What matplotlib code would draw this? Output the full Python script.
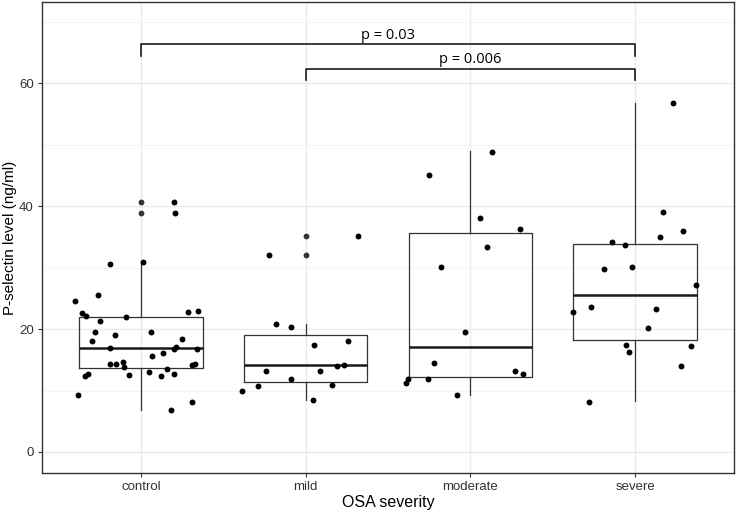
import numpy as np
import matplotlib.pyplot as plt

categories = ["control", "mild", "moderate", "severe"]

# box statistics
q1 = [13.7, 11.4, 12.2, 18.2]
med = [16.9, 14.1, 17.0, 25.5]
q3 = [21.9, 19.1, 35.6, 33.9]
whislo = [6.9, 8.5, 9.3, 8.3]
whishi = [30.9, 20.8, 48.9, 56.7]
outliers = [[40.65, 38.9], [35.2, 32.0], [], []]

# jittered observations: value and horizontal jitter
control_vals = [40.65, 38.9, 30.6, 30.9, 25.6, 24.5, 22.55, 22.1, 21.25, 21.95,
                22.7, 22.9, 19.45, 19.0, 19.45, 18.05, 18.4, 16.9, 16.75, 17.05,
                16.75, 16.15, 15.6, 14.25, 14.35, 14.6, 13.9, 14.15, 14.35, 12.4,
                12.7, 12.6, 12.95, 12.4, 13.55, 12.7, 9.2, 8.1, 6.8]
control_jit = [0.20, 0.21, -0.19, 0.01, -0.26, -0.40, -0.36, -0.33, -0.25, -0.09,
               0.285, 0.345, -0.28, -0.16, 0.06, -0.295, 0.25, -0.19, 0.20, 0.215,
               0.34, 0.135, 0.07, -0.19, -0.15, -0.11, -0.105, 0.31, 0.33, -0.34,
               -0.32, -0.07, 0.05, 0.12, 0.16, 0.20, -0.38, 0.31, 0.18]

mild_vals = [35.2, 32.0, 20.75, 20.4, 17.4, 18.05, 14.0, 14.2, 13.1, 13.2,
             11.9, 10.7, 10.85, 10.0, 8.4]
mild_jit = [0.32, -0.22, -0.18, -0.09, 0.05, 0.26, 0.19, 0.23, -0.24, 0.09,
            -0.09, -0.29, 0.16, -0.385, 0.045]

moderate_vals = [48.8, 45.0, 38.1, 36.3, 33.3, 30.1, 19.5, 14.5, 13.2, 12.7,
                 11.9, 11.3, 11.8, 9.2]
moderate_jit = [0.13, -0.25, 0.06, 0.30, 0.10, -0.18, -0.03, -0.22, 0.27, 0.32,
                -0.38, -0.39, -0.26, -0.08]

severe_vals = [56.7, 39.1, 36.0, 34.9, 34.1, 33.6, 29.75, 30.1, 27.2, 22.7,
               23.6, 23.2, 20.1, 17.4, 16.3, 17.2, 14.0, 8.2]
severe_jit = [0.23, 0.17, 0.29, 0.15, -0.14, -0.06, -0.19, -0.02, 0.37, -0.38,
              -0.27, 0.125, 0.08, -0.055, -0.04, 0.34, 0.28, -0.28]

comparisons = [("control", "severe", 66.3, "p = 0.03"),
               ("mild", "severe", 62.3, "p = 0.006")]

fig = plt.figure(figsize=(7.37, 5.14), dpi=100)
ax = fig.add_axes([0.057, 0.08, 0.939, 0.916])

pos = np.arange(1, len(categories) + 1)

stats = []
for i in range(len(categories)):
    stats.append(dict(q1=q1[i], med=med[i], q3=q3[i], whislo=whislo[i],
                      whishi=whishi[i], fliers=outliers[i]))

line_c = "#333333"
ax.bxp(stats, positions=pos, widths=0.75, showcaps=False, zorder=2,
       boxprops=dict(color=line_c, lw=0.9),
       whiskerprops=dict(color=line_c, lw=0.9),
       medianprops=dict(color="#1a1a1a", lw=1.8),
       flierprops=dict(marker="o", markersize=4.2, markerfacecolor="#333333",
                       markeredgecolor="none"))

groups = [(control_vals, control_jit), (mild_vals, mild_jit),
          (moderate_vals, moderate_jit), (severe_vals, severe_jit)]
for p, (vals, jit) in zip(pos, groups):
    ax.scatter(p + np.array(jit), vals, s=18, color="black", lw=0, zorder=3)

# significance brackets
for a, b, y, label in comparisons:
    xa = categories.index(a) + 1
    xb = categories.index(b) + 1
    ax.plot([xa, xa, xb, xb], [y - 1.8, y, y, y - 1.8], color="#1a1a1a",
            lw=1.2, zorder=4)
    ax.text((xa + xb) / 2, y + 0.3, label, ha="center", va="bottom",
            fontsize=10.5, family="Open Sans", color="black")

ax.set_xlim(0.4, 4.6)
ax.set_ylim(-3.4, 73.2)
ax.set_xticks(pos)
ax.set_xticklabels(categories)
ax.set_yticks([0, 20, 40, 60])
ax.set_yticks([10, 30, 50, 70], minor=True)

ax.grid(True, which="major", color="#EBEBEB", lw=1.0, zorder=0)
ax.grid(True, which="minor", axis="y", color="#F2F2F2", lw=0.6, zorder=0)
ax.set_axisbelow(True)

for s in ax.spines.values():
    s.set_color("#333333")
    s.set_linewidth(1.0)

ax.tick_params(axis="both", which="major", length=3, width=0.8,
               color="#333333", labelcolor="#333333", labelsize=9.5, pad=3)
ax.tick_params(which="minor", length=0)
for t in ax.get_xticklabels() + ax.get_yticklabels():
    t.set_family("Liberation Sans")

ax.set_xlabel("OSA severity", fontsize=11.5, family="Liberation Sans", labelpad=1)
ax.set_ylabel("P-selectin level (ng/ml)", fontsize=11, family="Liberation Sans")
ax.yaxis.set_label_coords(-0.036, 0.5)

fig.savefig("out.png", dpi=100)
